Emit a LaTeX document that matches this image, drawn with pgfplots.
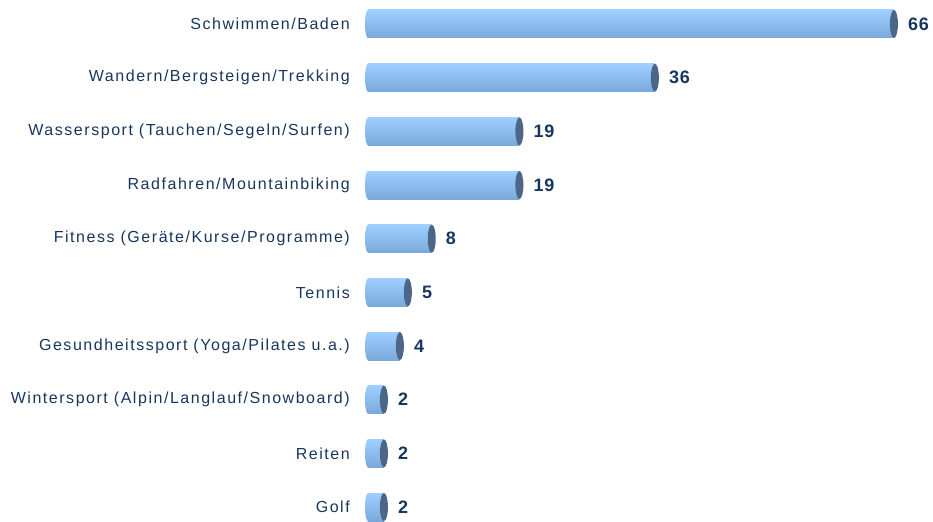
\documentclass[border=0pt]{standalone}
\usepackage{fontspec}
\setmainfont{Liberation Sans}
\newfontfamily\labfont[LetterSpace=9.6]{Liberation Sans}
\newfontfamily\valfont[LetterSpace=4]{Liberation Sans}
\usepackage{pgfplots}
\pgfplotsset{compat=1.18}
\definecolor{navy}{HTML}{17365E}
\definecolor{bartop}{HTML}{9FCFFF}
\definecolor{barmid}{HTML}{8CBCEE}
\definecolor{barbot}{HTML}{7AA8D8}
\definecolor{capc}{HTML}{4C6688}
\pgfdeclareplotmark{rcap}{\fill[capc, draw=none] (0pt,0pt) ellipse (4pt and 14pt);}
\pgfdeclareplotmark{lcap}{\shade[draw=none, top color=bartop, bottom color=barbot, middle color=barmid] (0pt,0pt) ellipse (3pt and 14pt);}
\pgfplotsset{cyl/.style={xbar, bar width=28pt, bar shift=0pt, draw=none, top color=bartop, bottom color=barbot, middle color=barmid,
  nodes near coords={\valfont\bfseries\fontsize{18}{21}\selectfont\pgfmathprintnumber[assume math mode=true]{\pgfplotspointmeta}},
  nodes near coords style={text=navy, anchor=west, inner sep=0pt, xshift=14pt}}}
\begin{document}
\begin{tikzpicture}
\begin{axis}[
  scale only axis, width=565pt, height=521pt,
  xmin=0, xmax=70.9, ymin=-0.447, ymax=9.26, y dir=reverse,
  axis line style={draw=none}, xtick=\empty,
  ytick={0,...,9},
  yticklabels={Schwimmen/Baden, Wandern/Bergsteigen/Trekking, Wassersport (Tauchen/Segeln/Surfen), Radfahren/Mountainbiking, Fitness (Geräte/Kurse/Programme), Tennis, Gesundheitssport (Yoga/Pilates u.a.), Wintersport (Alpin/Langlauf/Snowboard), Reiten, Golf},
  ytick style={draw=none}, major tick length=0pt,
  yticklabel style={font={\labfont\fontsize{16}{19}\selectfont}, text=navy, anchor=east, inner sep=0pt, xshift=-18pt},
  clip=false,
]
\addplot[only marks, mark=lcap, draw=none, mark options={draw=none}] coordinates {(0,0) (0,1) (0,2) (0,3) (0,4) (0,5) (0,6) (0,7) (0,8) (0,9)};
\addplot[cyl] coordinates {(66,0)};
\addplot[cyl] coordinates {(36,1)};
\addplot[cyl] coordinates {(19,2)};
\addplot[cyl] coordinates {(19,3)};
\addplot[cyl] coordinates {(8,4)};
\addplot[cyl] coordinates {(5,5)};
\addplot[cyl] coordinates {(4,6)};
\addplot[cyl] coordinates {(2,7)};
\addplot[cyl] coordinates {(2,8)};
\addplot[cyl] coordinates {(2,9)};
\addplot[only marks, mark=rcap, mark options={draw=none}] coordinates {(66,0) (36,1) (19,2) (19,3) (8,4) (5,5) (4,6) (2,7) (2,8) (2,9)};
\end{axis}
\pgfresetboundingbox
\path (current axis.south west) ++(-368pt,0pt) rectangle (current axis.north east);
\end{tikzpicture}
\end{document}
